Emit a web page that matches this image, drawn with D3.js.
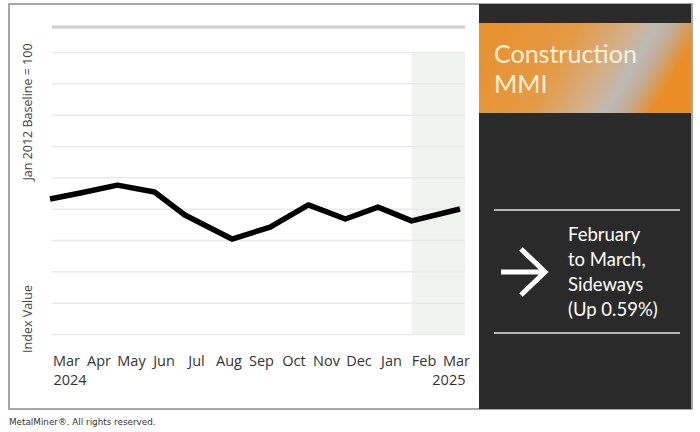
<!DOCTYPE html>
<html>
<head>
<meta charset="utf-8">
<script src="https://cdn.jsdelivr.net/npm/d3@7"></script>
<style>
  body { margin: 0; background: #fff; }
  svg { display: block; }
</style>
</head>
<body>
<svg id="chart" width="700" height="432"></svg>
<script>
let obsDates = ["2024-03-01", "2024-03-28", "2024-04-30", "2024-06-02", "2024-06-29", "2024-08-10",
                "2024-09-13", "2024-10-17", "2024-11-19", "2024-12-18", "2025-01-17", "2025-03-01"];
let values = [103.1, 105.0, 107.5, 105.3, 98.0, 90.3, 94.1, 101.2, 96.7, 100.5, 96.1, 99.9];

// axis labels
let monthLabels = ["Mar", "Apr", "May", "Jun", "Jul", "Aug", "Sep", "Oct", "Nov", "Dec", "Jan", "Feb", "Mar"];
let yearLabels = ["2024", "", "", "", "", "", "", "", "", "", "", "", "2025"];
let gridValues = [60, 70, 80, 90, 100, 110, 120, 130, 140, 150];
let highlightStart = "2025-01-17";

let svg = d3.select("#chart");
let parse = d3.timeParse("%Y-%m-%d");
let data = obsDates.map(function(d, i) { return {date: parse(d), value: values[i]}; });

let plotLeft = 52, plotRight = 465, plotTop = 52, plotBottom = 334;

let x = d3.scaleTime()
    .domain([parse(obsDates[0]), parse(obsDates[obsDates.length - 1])])
    .range([50, 460]);
let y = d3.scaleLinear().domain([60, 150]).range([plotBottom, plotTop]);
let xl = d3.scalePoint().domain(d3.range(monthLabels.length)).range([66, 456]);

// outer frame
svg.append("rect")
    .attr("x", 9).attr("y", 4).attr("width", 683).attr("height", 405)
    .attr("fill", "#fff").attr("stroke", "#8a8a8a").attr("stroke-width", 1.5);

// highlighted last month
svg.append("rect")
    .attr("x", x(parse(highlightStart))).attr("y", plotTop)
    .attr("width", plotRight - x(parse(highlightStart))).attr("height", plotBottom - plotTop)
    .attr("fill", "#f1f3f1");

// gridlines
svg.append("g")
    .attr("transform", "translate(" + plotRight + ",0)")
    .call(d3.axisLeft(y).tickValues(gridValues).tickSize(plotRight - plotLeft).tickFormat(""))
    .call(function(g) {
      g.select(".domain").remove();
      g.selectAll("line").attr("stroke", "#e9e9e9").attr("stroke-width", 1.5);
    });

// thick rule above plot
svg.append("line")
    .attr("x1", plotLeft).attr("x2", plotRight).attr("y1", 27).attr("y2", 27)
    .attr("stroke", "#cfcfcf").attr("stroke-width", 3);

// the index line
svg.append("path")
    .datum(data)
    .attr("fill", "none")
    .attr("stroke", "#000")
    .attr("stroke-width", 5.5)
    .attr("stroke-linejoin", "round")
    .attr("d", d3.line().x(function(d) { return x(d.date); }).y(function(d) { return y(d.value); }));

// month labels
let xa = svg.append("g")
    .attr("transform", "translate(0,353)")
    .call(d3.axisBottom(xl).tickSize(0).tickFormat(function(i) { return monthLabels[i]; }));
xa.select(".domain").remove();
xa.selectAll("text")
    .attr("font-family", "Open Sans, sans-serif")
    .attr("font-size", 14.5)
    .attr("fill", "#333")
    .attr("dy", "0.71em");
xa.selectAll(".tick").append("text")
    .attr("y", 32)
    .attr("font-family", "Open Sans, sans-serif")
    .attr("font-size", 14.5)
    .attr("fill", "#333")
    .attr("text-anchor", function(i) { return i === 0 ? "start" : "end"; })
    .attr("x", function(i) { return i === 0 ? -13 : 9; })
    .text(function(i) { return yearLabels[i]; });

// y titles
let yTitle = function(txt, cy) {
  svg.append("text")
      .attr("transform", "translate(32," + cy + ") rotate(-90)")
      .attr("text-anchor", "middle")
      .attr("font-family", "Open Sans, sans-serif")
      .attr("font-size", 12.5)
      .attr("fill", "#444")
      .text(txt);
};
yTitle("Jan 2012 Baseline = 100", 112);
yTitle("Index Value", 319);

// side panel
let panel = svg.append("g");
panel.append("rect")
    .attr("x", 479).attr("y", 4).attr("width", 212).attr("height", 405)
    .attr("fill", "#2b2a2b");

let grad = svg.append("defs").append("linearGradient")
    .attr("id", "band").attr("x1", 0).attr("y1", 0).attr("x2", 1).attr("y2", 0.25);
[[0, "#e8902b"], [0.45, "#e59a45"], [0.68, "#d4b08a"], [0.8, "#bcbab6"], [0.88, "#c4ad92"], [1, "#ea8d26"]]
  .forEach(function(s) { grad.append("stop").attr("offset", s[0]).attr("stop-color", s[1]); });

panel.append("rect")
    .attr("x", 479).attr("y", 23).attr("width", 212).attr("height", 90)
    .attr("fill", "url(#band)");

panel.append("text")
    .attr("x", 494).attr("y", 63)
    .attr("font-family", "Lato, sans-serif").attr("font-size", 25)
    .attr("fill", "#fcf0dc")
    .text("Construction");
panel.append("text")
    .attr("x", 494).attr("y", 93)
    .attr("font-family", "Lato, sans-serif").attr("font-size", 25)
    .attr("fill", "#fcf0dc")
    .text("MMI");

panel.selectAll(".rule")
    .data([210, 333])
    .enter().append("line")
    .attr("x1", 494).attr("x2", 680)
    .attr("y1", function(d) { return d; }).attr("y2", function(d) { return d; })
    .attr("stroke", "#e6e6e6").attr("stroke-width", 1.5);

// arrow
panel.append("path")
    .attr("d", "M501,272 H545 M521,249 L545,272 L521,295")
    .attr("fill", "none").attr("stroke", "#fff").attr("stroke-width", 5);

let note = ["February", "to March,", "Sideways", "(Up 0.59%)"];
panel.append("text")
    .attr("font-family", "Lato, sans-serif").attr("font-size", 18.5)
    .attr("fill", "#fff")
    .selectAll("tspan")
    .data(note)
    .enter().append("tspan")
    .attr("x", 568)
    .attr("y", function(d, i) { return 241 + i * 25; })
    .text(function(d) { return d; });

// footer
svg.append("text")
    .attr("x", 9).attr("y", 425)
    .attr("font-family", "DejaVu Sans, sans-serif").attr("font-size", 8.8)
    .attr("fill", "#333")
    .text("MetalMiner®. All rights reserved.");
</script>
</body>
</html>
